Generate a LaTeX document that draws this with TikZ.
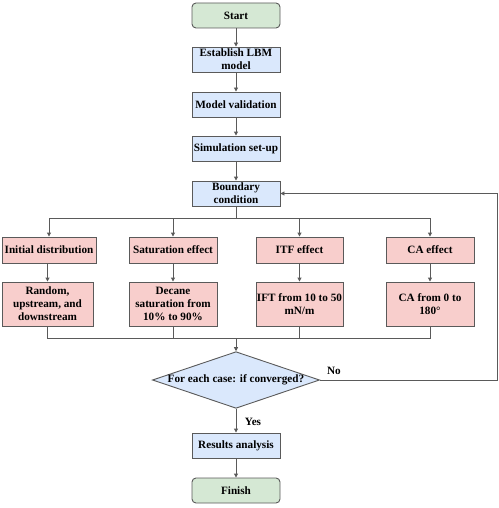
\documentclass[tikz,border=0pt]{standalone}
\usepackage{fontspec}
\setmainfont{Liberation Serif}
\usetikzlibrary{shapes.geometric,arrows.meta}
\definecolor{gfill}{HTML}{D5E8D4}
\definecolor{bfill}{HTML}{DAE8FC}
\definecolor{pfill}{HTML}{F8CECC}
\definecolor{edge}{HTML}{5A5A5A}
\tikzset{
  base/.style={draw=edge, line width=0.9pt, inner sep=1pt, align=center,
    font=\fontsize{11.2}{13}\selectfont\bfseries},
  term/.style={base, fill=gfill, rounded corners=4pt, minimum width=88pt, minimum height=25pt},
  bbox/.style={base, fill=bfill, minimum width=88pt, minimum height=25pt},
  pbox/.style={base, fill=pfill, minimum height=26pt},
  pbig/.style={base, fill=pfill, minimum height=44pt},
  dec/.style={base, fill=bfill, shape=diamond, inner sep=0pt, aspect=2.95,
    minimum width=165pt, minimum height=56pt},
  arr/.style={draw=edge, line width=0.9pt, -{Triangle[length=4pt,width=4pt]}},
  ln/.style={draw=edge, line width=0.9pt},
  lab/.style={font=\fontsize{11.2}{13}\selectfont\bfseries}
}
\begin{document}
\begin{tikzpicture}[x=1pt,y=-1pt]
\useasboundingbox (0,0) rectangle (498,508);
\node[term] (start) at (236,15.5) {Start};
\node[bbox] (lbm) at (236,59.5) {Establish LBM\\model};
\node[bbox] (val) at (236,104.5) {Model validation};
\node[bbox] (sim) at (236,148.5) {Simulation set-up};
\node[bbox] (bc) at (236,193.5) {Boundary\\condition};

\node[pbox, minimum width=94pt] (p1) at (49,250) {Initial distribution};
\node[pbox, minimum width=88pt] (p2) at (173,250) {Saturation effect};
\node[pbox, minimum width=87pt] (p3) at (299.5,250) {ITF effect};
\node[pbox, minimum width=88pt] (p4) at (430,250) {CA effect};

\node[pbig, minimum width=91pt] (q1) at (47.5,304) {Random,\\upstream, and\\downstream};
\node[pbig, minimum width=88pt] (q2) at (173,304) {Decane\\saturation from\\10\% to 90\%};
\node[pbig, minimum width=87pt] (q3) at (299.5,304) {IFT from 10 to 50\\mN/m};
\node[pbig, minimum width=88pt] (q4) at (430,304) {CA from 0 to\\180°};

\node[dec] (dc) at (236,380) {For each case: if converged?};
\node[bbox] (res) at (236,445.5) {Results analysis};
\node[term] (fin) at (236,490.5) {Finish};

\node[lab] (yes) at (253,422) {Yes};
\node[lab] (no) at (334,371) {No};

\draw[arr] (start) -- (lbm);
\draw[arr] (lbm) -- (val);
\draw[arr] (val) -- (sim);
\draw[arr] (sim) -- (bc);

\coordinate (split) at (236,218);
\draw[ln] (bc.south) -- (split);
\draw[arr] (split) -| (p1.north);
\draw[arr] (split) -| (p2.north);
\draw[arr] (split) -| (p3.north);
\draw[arr] (split) -| (p4.north);

\draw[arr] (p1.south -| q1.north) -- (q1.north);
\draw[arr] (p2) -- (q2);
\draw[arr] (p3) -- (q3);
\draw[arr] (p4) -- (q4);

\coordinate (merge) at (236,338);
\draw[ln] (q1.south) |- (merge);
\draw[ln] (q2.south) |- (merge);
\draw[ln] (q3.south) |- (merge);
\draw[ln] (q4.south) |- (merge);
\draw[arr] (merge) -- (dc.north);

\coordinate (back) at (497,380);
\draw[arr] (dc.east) -- (back) |- (bc.east);
\draw[arr] (dc.south) -- (res.north);
\draw[arr] (res) -- (fin);
\end{tikzpicture}
\end{document}
